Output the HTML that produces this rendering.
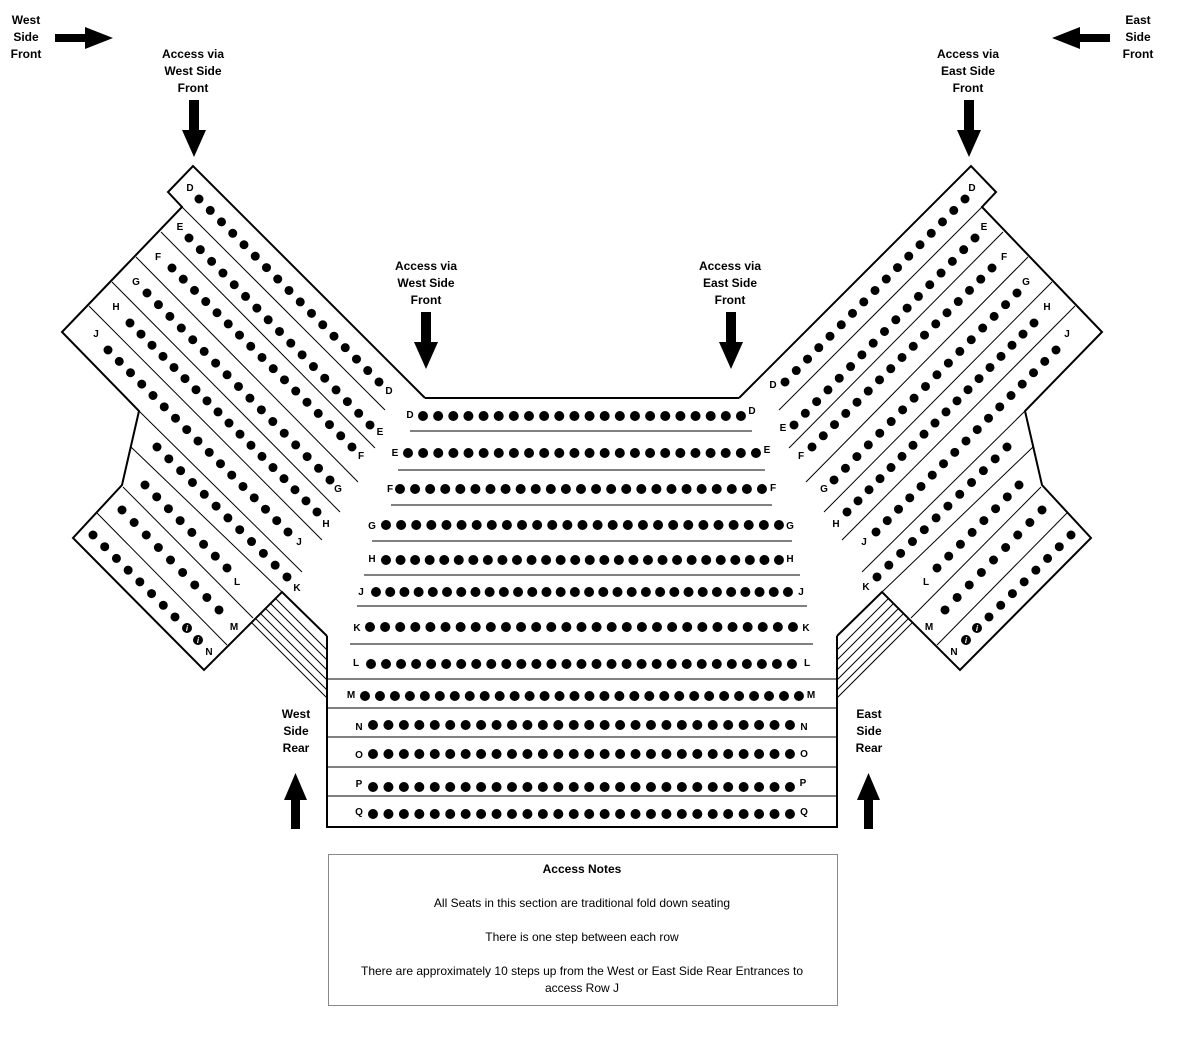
<!DOCTYPE html>
<html><head><meta charset="utf-8"><style>
html,body{margin:0;padding:0;background:#fff;}
svg{display:block;font-family:"Liberation Sans",sans-serif;}
.t{font-size:12px;font-weight:bold;text-anchor:middle;}
.l{font-size:10px;font-weight:bold;text-anchor:middle;}
.n{font-size:12px;text-anchor:middle;}
.d{stroke:#000;stroke-linecap:round;stroke-dasharray:0 0.9999;fill:none;}
</style></head><body>
<svg width="1180" height="1050" viewBox="0 0 1180 1050" xmlns="http://www.w3.org/2000/svg">
<defs>
<g id="wing">
 <path d="M425,398 L193,166 L168,192 L182,207 L62,332 L139,411 L122,485 L73,538 L204,670 L282,592 L327,636" fill="none" stroke="#000" stroke-width="2"/>
 <g stroke="#000" stroke-width="1" fill="none">
  <line x1="182" y1="207" x2="385" y2="410"/>
  <line x1="161" y1="232" x2="375" y2="448"/>
  <line x1="136" y1="257" x2="358" y2="482"/>
  <line x1="112" y1="282" x2="340" y2="512"/>
  <line x1="89" y1="306" x2="322" y2="540"/>
  <line x1="139" y1="411" x2="302" y2="572"/>
  <line x1="131" y1="447" x2="282" y2="592"/>
  <line x1="123" y1="487" x2="253" y2="618"/>
  <line x1="97" y1="513" x2="227" y2="645"/>
  <line x1="275.5" y1="598.5" x2="327" y2="650"/>
  <line x1="270.5" y1="603.5" x2="327" y2="660"/>
  <line x1="265.5" y1="608.5" x2="327" y2="670"/>
  <line x1="260.5" y1="613.5" x2="327" y2="680"/>
  <line x1="255.5" y1="618.5" x2="327" y2="690"/>
  <line x1="251.5" y1="622.5" x2="327" y2="698"/>
 </g>
 <g class="d" stroke-width="9">
  <line x1="199" y1="199" x2="379" y2="382" pathLength="16"/>
  <line x1="189" y1="238" x2="370" y2="425" pathLength="16"/>
  <line x1="172" y1="268" x2="352" y2="447" pathLength="16"/>
  <line x1="147" y1="293" x2="330" y2="480" pathLength="16"/>
  <line x1="130" y1="323" x2="317" y2="512" pathLength="17"/>
  <line x1="108" y1="350" x2="288" y2="532" pathLength="16"/>
  <line x1="157" y1="447" x2="287" y2="577" pathLength="11"/>
  <line x1="145" y1="485" x2="227" y2="568" pathLength="7"/>
  <line x1="122" y1="510" x2="219" y2="610" pathLength="8"/>
  <line x1="93" y1="535" x2="175" y2="617" pathLength="7"/>
 </g>
 <circle cx="187" cy="628" r="5"/><circle cx="198" cy="640" r="5"/>
</g>
</defs>
<use href="#wing"/>
<use href="#wing" transform="matrix(-1 0 0 1 1164 0)"/>
<line x1="425" y1="398" x2="739" y2="398" stroke="#000" stroke-width="2"/>
<path d="M327,636 L327,827 L837,827 L837,636" fill="none" stroke="#000" stroke-width="2"/>
<g stroke="#000" stroke-width="1">
 <line x1="410" y1="431" x2="752" y2="431"/>
 <line x1="398" y1="470" x2="765" y2="470"/>
 <line x1="391" y1="505" x2="772" y2="505"/>
 <line x1="372" y1="541" x2="792" y2="541"/>
 <line x1="364" y1="575" x2="800" y2="575"/>
 <line x1="357" y1="606" x2="807" y2="606"/>
 <line x1="350" y1="644" x2="813" y2="644"/>
 <line x1="327" y1="679" x2="837" y2="679"/>
 <line x1="327" y1="708" x2="837" y2="708"/>
 <line x1="327" y1="737" x2="837" y2="737"/>
 <line x1="327" y1="767" x2="837" y2="767"/>
 <line x1="327" y1="796" x2="837" y2="796"/>
</g>
<g class="d" stroke-width="10">
 <line x1="423" y1="416" x2="741" y2="416" pathLength="21"/>
 <line x1="408" y1="453" x2="756" y2="453" pathLength="23"/>
 <line x1="400" y1="489" x2="762" y2="489" pathLength="24"/>
 <line x1="386" y1="525" x2="779" y2="525" pathLength="26"/>
 <line x1="386" y1="560" x2="779" y2="560" pathLength="27"/>
 <line x1="376" y1="592" x2="788" y2="592" pathLength="29"/>
 <line x1="370" y1="627" x2="793" y2="627" pathLength="28"/>
 <line x1="371" y1="664" x2="792" y2="664" pathLength="28"/>
 <line x1="365" y1="696" x2="799" y2="696" pathLength="29"/>
 <line x1="373" y1="725" x2="790" y2="725" pathLength="27"/>
 <line x1="373" y1="754" x2="790" y2="754" pathLength="27"/>
 <line x1="373" y1="787" x2="790" y2="787" pathLength="27"/>
 <line x1="373" y1="814" x2="790" y2="814" pathLength="27"/>
</g>
<g fill="#fff" font-size="8" font-style="italic" font-weight="bold" text-anchor="middle">
 <text x="187" y="631">i</text><text x="198" y="643">i</text>
 <text x="977" y="631">i</text><text x="966" y="643">i</text>
</g>
<g class="l">
 <text x="190" y="191">D</text><text x="389" y="394">D</text>
 <text x="180" y="230">E</text><text x="380" y="435">E</text>
 <text x="158" y="260">F</text><text x="361" y="459">F</text>
 <text x="136" y="285">G</text><text x="338" y="492">G</text>
 <text x="116" y="310">H</text><text x="326" y="527">H</text>
 <text x="96" y="337">J</text><text x="299" y="545">J</text>
 <text x="297" y="591">K</text><text x="237" y="585">L</text>
 <text x="234" y="630">M</text><text x="209" y="655">N</text>
 <text x="972" y="191">D</text><text x="773" y="388">D</text>
 <text x="984" y="230">E</text><text x="783" y="431">E</text>
 <text x="1004" y="260">F</text><text x="801" y="459">F</text>
 <text x="1026" y="285">G</text><text x="824" y="492">G</text>
 <text x="1047" y="310">H</text><text x="836" y="527">H</text>
 <text x="1067" y="337">J</text><text x="864" y="545">J</text>
 <text x="866" y="590">K</text><text x="926" y="585">L</text>
 <text x="929" y="630">M</text><text x="954" y="655">N</text>
 <text x="410" y="418">D</text><text x="752" y="414">D</text>
 <text x="395" y="456">E</text><text x="767" y="453">E</text>
 <text x="390" y="492">F</text><text x="773" y="491">F</text>
 <text x="372" y="529">G</text><text x="790" y="529">G</text>
 <text x="372" y="562">H</text><text x="790" y="562">H</text>
 <text x="361" y="595">J</text><text x="801" y="595">J</text>
 <text x="357" y="631">K</text><text x="806" y="631">K</text>
 <text x="356" y="666">L</text><text x="807" y="666">L</text>
 <text x="351" y="698">M</text><text x="811" y="698">M</text>
 <text x="359" y="730">N</text><text x="804" y="730">N</text>
 <text x="359" y="758">O</text><text x="804" y="757">O</text>
 <text x="359" y="787">P</text><text x="803" y="786">P</text>
 <text x="359" y="815">Q</text><text x="804" y="815">Q</text>
</g>
<g class="t">
 <text x="26" y="24">West</text><text x="26" y="41">Side</text><text x="26" y="58">Front</text>
 <text x="1138" y="24">East</text><text x="1138" y="41">Side</text><text x="1138" y="58">Front</text>
 <text x="193" y="58">Access via</text><text x="193" y="75">West Side</text><text x="193" y="92">Front</text>
 <text x="968" y="58">Access via</text><text x="968" y="75">East Side</text><text x="968" y="92">Front</text>
 <text x="426" y="270">Access via</text><text x="426" y="287">West Side</text><text x="426" y="304">Front</text>
 <text x="730" y="270">Access via</text><text x="730" y="287">East Side</text><text x="730" y="304">Front</text>
 <text x="296" y="718">West</text><text x="296" y="735">Side</text><text x="296" y="752">Rear</text>
 <text x="869" y="718">East</text><text x="869" y="735">Side</text><text x="869" y="752">Rear</text>
</g>
<g fill="#000">
 <path d="M55,34 H85 V27 L113,38 L85,49 V42 H55 Z"/>
 <path d="M1110,34 H1080 V27 L1052,38 L1080,49 V42 H1110 Z"/>
 <path d="M189,100 H199 V130 H206 L194,157 L182,130 H189 Z"/>
 <path d="M964,100 H974 V130 H981 L969,157 L957,130 H964 Z"/>
 <path d="M421,312 H431 V342 H438 L426,369 L414,342 H421 Z"/>
 <path d="M726,312 H736 V342 H743 L731,369 L719,342 H726 Z"/>
 <path d="M291,829 H300 V800 H307 L295.5,773 L284,800 H291 Z"/>
 <path d="M864,829 H873 V800 H880 L868.5,773 L857,800 H864 Z"/>
</g>
<rect x="328.5" y="854.5" width="509" height="151" fill="none" stroke="#888" stroke-width="1"/>
<text class="n" x="582" y="873" font-weight="bold">Access Notes</text>
<text class="n" x="582" y="907">All Seats in this section are traditional fold down seating</text>
<text class="n" x="582" y="941">There is one step between each row</text>
<text class="n" x="582" y="975">There are approximately 10 steps up from the West or East Side Rear Entrances to</text>
<text class="n" x="582" y="992">access Row J</text>
</svg>
</body></html>
